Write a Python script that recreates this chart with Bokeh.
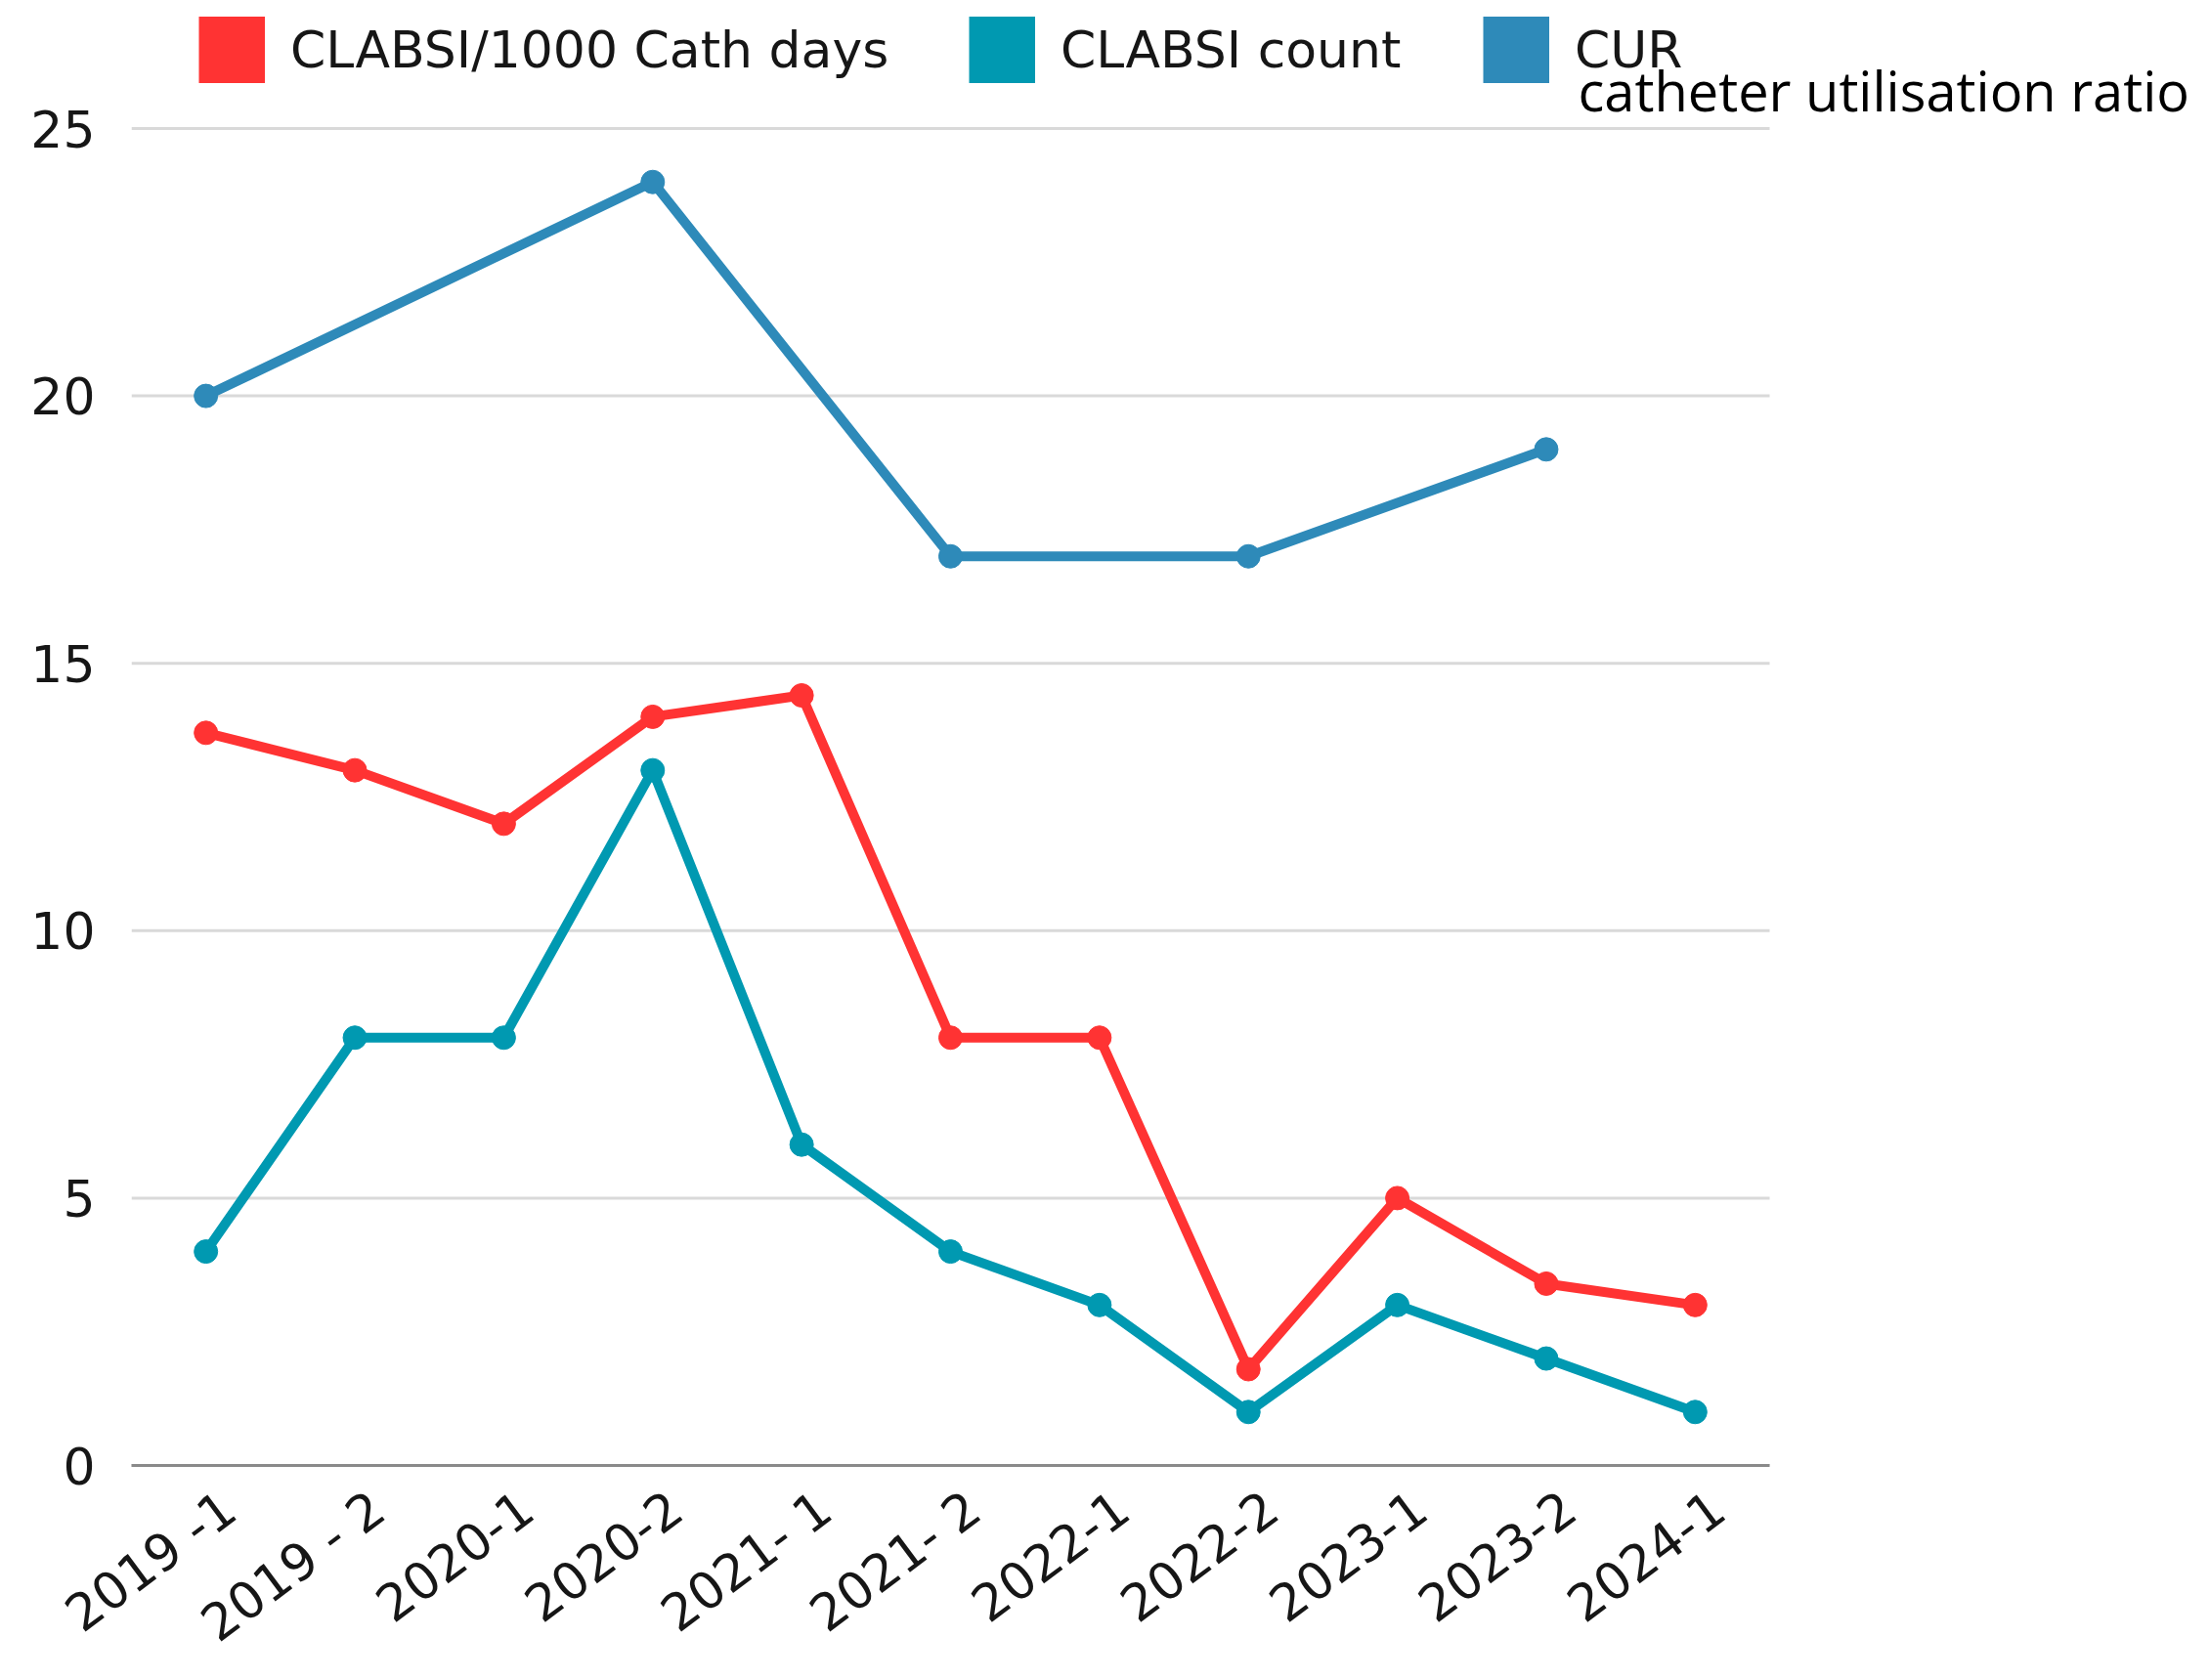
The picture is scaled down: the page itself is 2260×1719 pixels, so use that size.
from bokeh.plotting import figure
from bokeh.models import Legend, LegendItem, Label, FixedTicker, ColumnDataSource, Range1d
from bokeh.embed import file_html
from bokeh.resources import INLINE

# ---- data ----
periods = ["2019 -1", "2019 - 2", "2020-1", "2020-2", "2021- 1", "2021- 2",
           "2022-1", "2022-2", "2023-1", "2023-2", "2024-1"]
clabsi_rate = [13.7, 13, 12, 14, 14.4, 8, 8, 1.8, 5, 3.4, 3]
clabsi_count = [4, 8, 8, 13, 6, 4, 3, 1, 3, 2, 1]
cur = [20, None, None, 24, None, 17, None, 17, None, 19, None]
y_ticks = [0, 5, 10, 15, 20, 25]

series_names = ["CLABSI/1000 Cath days", "CLABSI count", "CUR"]
cur_subtitle = "catheter utilisation ratio"
colors = ["#FF3333", "#0099B1", "#2E8AB9"]

FONT = "DejaVu Sans"

# ---- layout constants (pixels) ----
W, H = 2244, 1719
PLOT_LEFT, PLOT_RIGHT = 134, 1810      # extent of the categorical band area
Y_TOP_PX, Y_ZERO_PX = 131, 1499         # pixel rows of the 25 and 0 grid lines
LABEL_SHIFT_PX = 24                     # rotated tick labels sit a little right of their point
n = len(periods)
band = (PLOT_RIGHT - PLOT_LEFT) / n
x_end = -0.5 + (W - PLOT_LEFT) / band
y_end = y_ticks[-1] * Y_ZERO_PX / (Y_ZERO_PX - Y_TOP_PX)

p = figure(x_range=Range1d(-0.5, x_end), y_range=Range1d(0, y_end),
           width=W, height=H, output_backend="svg", toolbar_location=None,
           min_border_left=PLOT_LEFT, min_border_right=0, min_border_top=0,
           min_border_bottom=H - Y_ZERO_PX)
p.outline_line_color = None
p.background_fill_color = "white"
p.border_fill_color = "white"
p.xgrid.grid_line_color = None
p.ygrid.grid_line_color = None

# horizontal grid lines limited to the category band
p.segment(x0=[-0.5] * len(y_ticks), x1=[n - 0.5] * len(y_ticks), y0=y_ticks, y1=y_ticks,
          line_color="#d9d9d9", line_width=3)

xs = list(range(n))
src_rate = ColumnDataSource(dict(x=xs, y=clabsi_rate))
src_count = ColumnDataSource(dict(x=xs, y=clabsi_count))
src_cur = ColumnDataSource(dict(x=[i for i, v in zip(xs, cur) if v is not None],
                                y=[v for v in cur if v is not None]))

for src, c in [(src_cur, colors[2]), (src_rate, colors[0]), (src_count, colors[1])]:
    p.line("x", "y", source=src, line_color=c, line_width=10, line_join="round")
    p.scatter("x", "y", source=src, size=24, fill_color=c, line_color=c)

# axes
p.yaxis.ticker = FixedTicker(ticks=y_ticks)
p.yaxis.axis_line_color = None
p.yaxis.major_tick_line_color = None
p.yaxis.minor_tick_line_color = None
p.yaxis.major_tick_out = 0
p.yaxis.major_tick_in = 0
p.yaxis.major_label_standoff = 37
p.yaxis.major_label_text_font = FONT
p.yaxis.major_label_text_font_size = "52px"
p.yaxis.major_label_text_color = "#161616"

shift = LABEL_SHIFT_PX / band
label_ticks = [i + shift for i in xs]
p.xaxis.ticker = FixedTicker(ticks=label_ticks)
p.xaxis.major_label_overrides = {t: name for t, name in zip(label_ticks, periods)}
p.xaxis.bounds = (-0.5, n - 0.5)
p.xaxis.axis_line_color = "#8a8a8a"
p.xaxis.axis_line_width = 3
p.xaxis.major_tick_line_color = None
p.xaxis.minor_tick_line_color = None
p.xaxis.major_tick_out = 0
p.xaxis.major_tick_in = 0
p.xaxis.major_label_orientation = 0.64
p.xaxis.major_label_standoff = 38
p.xaxis.major_label_text_font = FONT
p.xaxis.major_label_text_font_size = "52px"
p.xaxis.major_label_text_color = "#161616"

# legend: one legend per entry so each sits where the reference has it;
# a thick line renderer (no visible data) gives a square swatch
legend_x = [69, 857, 1383]
legend_y = 1406
nan = float("nan")
for name, c, lx in zip(series_names, colors, legend_x):
    r = p.line(x=[nan], y=[nan], line_color=c, line_width=68)
    lg = Legend(items=[LegendItem(label=name, renderers=[r])], location=(lx, legend_y),
                glyph_width=68, glyph_height=85, label_standoff=26, padding=0, margin=0,
                border_line_color=None, background_fill_alpha=0,
                label_text_font=FONT, label_text_font_size="52px", label_text_color="#161616")
    p.add_layout(lg, "center")

p.add_layout(Label(x=1480, y=1408, x_units="screen", y_units="screen", text=cur_subtitle,
                   text_font="Open Sans", text_font_size="56px", text_color="black",
                   text_baseline="alphabetic"))

open("out.html", "w").write(file_html(p, INLINE))
